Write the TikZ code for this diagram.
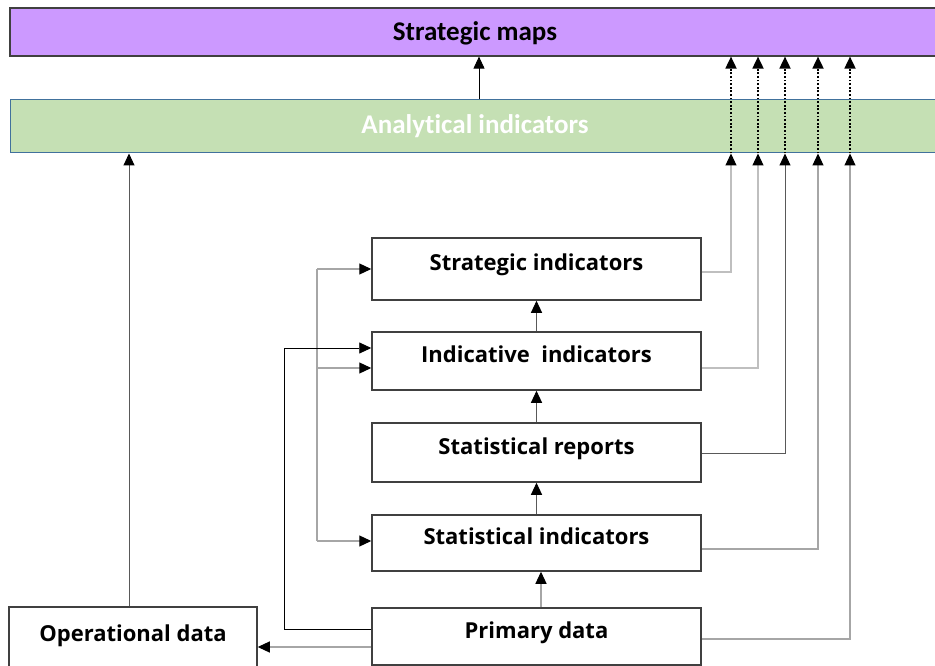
\documentclass[tikz,border=0pt]{standalone}
\usepackage{fontspec}
\setmainfont{Open Sans}
\newfontfamily\calfont[RawFeature=-liga]{Carlito}
\usetikzlibrary{arrows.meta}
\definecolor{purp}{RGB}{204,153,255}
\definecolor{grn}{RGB}{197,224,180}
\definecolor{blu}{RGB}{65,113,156}
\definecolor{lgray}{RGB}{191,191,191}
\definecolor{mgray}{RGB}{166,166,166}
\definecolor{dgray}{RGB}{89,89,89}
\definecolor{boxc}{RGB}{64,64,64}
\begin{document}
\begin{tikzpicture}[x=1pt,y=-1pt,
  box/.style={draw=boxc, line width=1.5pt, fill=white, minimum width=329pt, inner sep=0pt,
    font=\bfseries\fontsize{22}{26}\selectfont, text height=16pt, text depth=12.5pt},
  band/.style={minimum width=930pt, inner sep=0pt, font=\calfont\bfseries\fontsize{27}{30}\selectfont},
  tip/.style={-{Triangle[length=12pt,width=11pt,color=black]}},
  lg/.style={draw=lgray, line width=1.2pt},
  mg/.style={draw=mgray, line width=1.2pt},
  dg/.style={draw=dgray, line width=1pt},
  bk/.style={draw=black, line width=0.9pt},
  dots/.style={draw=black, line width=1.8pt, dash pattern=on 1.8pt off 1.8pt}
]
\useasboundingbox (0,0) rectangle (935,666);
% bands
\node[band, draw=boxc, line width=1.2pt, fill=purp, minimum height=48pt, text height=22pt, text depth=4pt] (sm) at (475,32) {Strategic maps};
\node[band, draw=blu, line width=1pt, fill=grn, minimum height=53pt, text=white] (an) at (475,126.5) {Analytical indicators};
% boxes
\node[box, minimum height=62pt] (si) at (536.5,269) {Strategic indicators};
\node[box, minimum height=58pt] (ii) at (536.5,361) {Indicative~ indicators};
\node[box, minimum height=59pt] (sr) at (536.5,452.5) {Statistical reports};
\node[box, minimum height=56pt] (sti) at (536.5,543) {Statistical indicators};
\node[box, minimum height=57pt] (pd) at (536.5,636.5) {Primary data};
\node[box, minimum width=248pt, minimum height=65pt] (od) at (133,639.5) {Operational data};
% column coordinates
\coordinate (x1) at (731,0);
\coordinate (x2) at (758,0);
\coordinate (x3) at (785,0);
\coordinate (x4) at (818,0);
\coordinate (x5) at (850,0);
\coordinate (xa) at (479,0);
\coordinate (xo) at (129,0);
\coordinate (xp) at (541,0);
\coordinate (bt) at (317,269);
\coordinate (bm) at (317,368);
\coordinate (bb) at (317,541);
\coordinate (lp) at (284,348);
% analytical -> strategic maps
\draw[bk,tip] (an.north -| xa) -- (sm.south -| xa);
\foreach \c in {x1,x2,x3,x4,x5}{
  \draw[dots,tip] (an.south -| \c) -- (sm.south -| \c);
}
% right-side feeds
\draw[lg,tip] ([yshift=-3pt]si.east) -| (an.south -| x1);
\draw[lg,tip] ([yshift=-7pt]ii.east) -| (an.south -| x2);
\draw[dg,tip] ([yshift=-0.5pt]sr.east) -| (an.south -| x3);
\draw[mg,tip] ([yshift=-6pt]sti.east) -| (an.south -| x4);
\draw[mg,tip] ([yshift=-2.5pt]pd.east) -| (an.south -| x5);
% central chain
\draw[dg,tip] (ii.north) -- (si.south);
\draw[dg,tip] (sr.north) -- (ii.south);
\draw[dg,tip] (sti.north) -- (sr.south);
\draw[mg,tip] (pd.north -| xp) -- (sti.south -| xp);
% left bracket
\draw[mg] (bt) -- (bb);
\draw[mg,tip] (bt) -- (bt -| si.west);
\draw[mg,tip] (bm) -- (bm -| ii.west);
\draw[mg,tip] (bb) -- (bb -| sti.west);
% primary data loop to indicative
\draw[bk,tip] ([yshift=7.5pt]pd.west) -| (lp) -- (lp -| ii.west);
% primary -> operational
\draw[mg,tip] ([yshift=-10.5pt]pd.west) coordinate (q) -- (q -| od.east);
% operational -> analytical
\draw[dg,tip] (od.north -| xo) -- (an.south -| xo);
\end{tikzpicture}
\end{document}
